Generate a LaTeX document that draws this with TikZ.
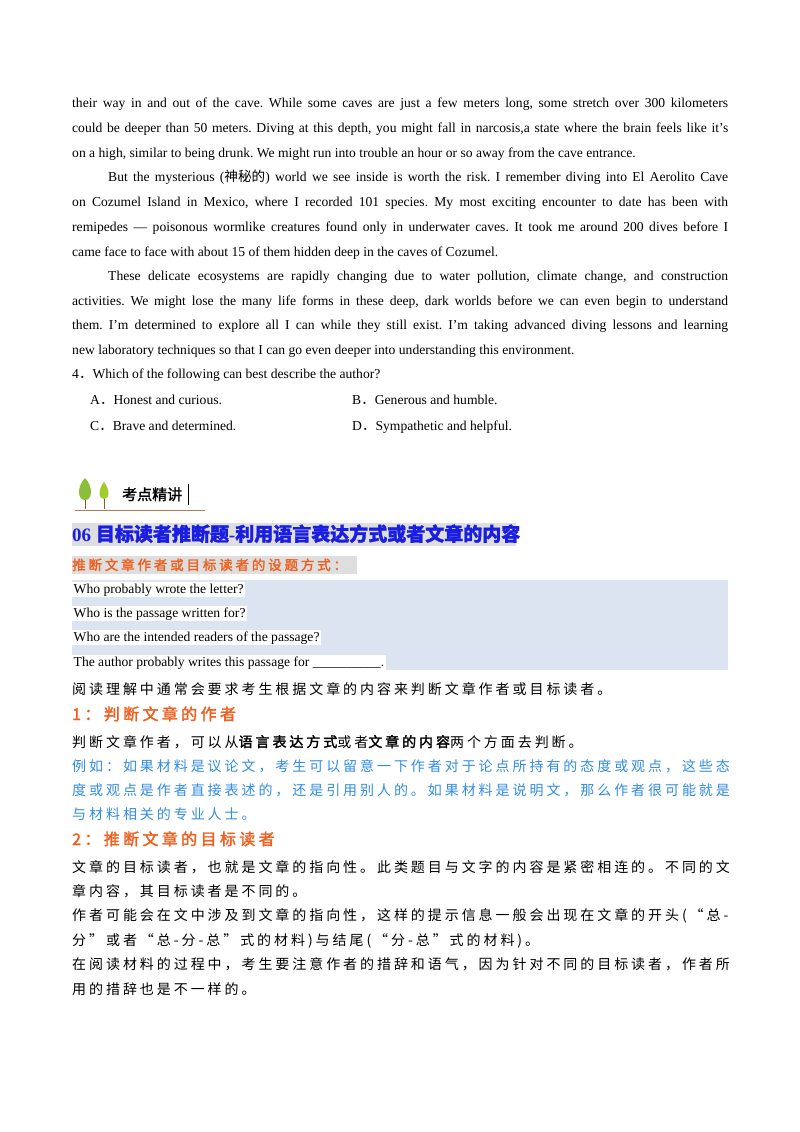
\documentclass[tikz,border=0pt]{standalone}
\usepackage{fontspec}
\setmainfont{Liberation Serif}
\newfontfamily\cjk[LetterSpace=21]{Noto Sans CJK SC}
\newfontfamily\cjkb[LetterSpace=21,FakeBold=2]{Noto Sans CJK SC}
\newfontfamily\cjkh[FakeBold=1.5]{Noto Sans CJK SC}
\newfontfamily\cjkp{Noto Sans CJK SC}
\definecolor{hblue}{RGB}{25,30,225}
\definecolor{orng}{RGB}{240,95,30}
\definecolor{tblue}{RGB}{50,140,225}
\definecolor{boxblue}{RGB}{220,228,242}
\definecolor{hgray}{RGB}{222,222,222}
\definecolor{leaf}{RGB}{140,190,60}
\newcommand\jl[2]{\makebox[#1][s]{#2}}
\frenchspacing
\begin{document}
\begin{tikzpicture}[x=1pt,y=-1pt,
  en/.style={anchor=base west,inner sep=0pt,font=\fontsize{13.6}{15}\selectfont},
  zh/.style={anchor=base west,inner sep=0pt,font=\fontsize{14}{16}\selectfont\cjk},
  zb/.style={anchor=base west,inner sep=0pt,font=\fontsize{14}{16}\selectfont\cjk,text=tblue},
  oh/.style={anchor=base west,inner sep=0pt,font=\fontsize{16}{18}\selectfont\cjkb,text=orng}]
\useasboundingbox[fill=white] (0,0) rectangle (800,1132);
\node[en] (l1) at (72,107) {\jl{656pt}{their way in and out of the cave. While some caves are just a few meters long, some stretch over 300 kilometers}};
\node[en] (l2) at (72,132) {\jl{656pt}{could be deeper than 50 meters. Diving at this depth, you might fall in narcosis,a state where the brain feels like it’s}};
\node[en] (l3) at (72,157) {on a high, similar to being drunk. We might run into trouble an hour or so away from the cave entrance.};
\node[en] (l4) at (108,181) {\jl{620pt}{But the mysterious ({\cjkp 神秘的}) world we see inside is worth the risk. I remember diving into El Aerolito Cave}};
\node[en] (l5) at (72,206) {\jl{656pt}{on Cozumel Island in Mexico, where I recorded 101 species. My most exciting encounter to date has been with}};
\node[en] (l6) at (72,231) {\jl{656pt}{remipedes — poisonous wormlike creatures found only in underwater caves. It took me around 200 dives before I}};
\node[en] (l7) at (72,256) {came face to face with about 15 of them hidden deep in the caves of Cozumel.};
\node[en] (l8) at (108,280) {\jl{620pt}{These delicate ecosystems are rapidly changing due to water pollution, climate change, and construction}};
\node[en] (l9) at (72,305) {\jl{656pt}{activities. We might lose the many life forms in these deep, dark worlds before we can even begin to understand}};
\node[en] (l10) at (72,329) {\jl{656pt}{them. I’m determined to explore all I can while they still exist. I’m taking advanced diving lessons and learning}};
\node[en] (l11) at (72,354) {new laboratory techniques so that I can go even deeper into understanding this environment.};
\node[en] (q) at (72,378) {4{\cjkp ．}Which of the following can best describe the author?};
\node[en] (oa) at (90,404) {A{\cjkp ．}Honest and curious.};
\node[en] (ob) at (352,404) {B{\cjkp ．}Generous and humble.};
\node[en] (oc) at (90,430) {C{\cjkp ．}Brave and determined.};
\node[en] (od) at (352,430) {D{\cjkp ．}Sympathetic and helpful.};
% icon
\draw[brown!60!gray,line width=0.8pt] (75,510) -- (205,510);
\draw[brown!70!black,line width=1pt] (85,495) -- (85,509) (104,495) -- (104,509);
\fill[leaf] (85,478) .. controls (77,486) and (77,500) .. (85,500) .. controls (93,500) and (93,486) .. (85,478);
\fill[leaf!80!yellow] (104,482) .. controls (98,489) and (98,499) .. (104,499) .. controls (110,499) and (110,489) .. (104,482);
\node[anchor=base west,inner sep=0pt,font=\fontsize{15}{16}\selectfont\cjkh] (kd) at (122,500) {考点精讲};
\draw[black,line width=0.8pt] (188,484) -- (188,505);
% heading
\fill[hgray] (72,523) rectangle (516,546);
\node[anchor=base west,inner sep=0pt,font=\fontsize{19}{20}\selectfont\bfseries,text=hblue] (h) at (72,541) {06 {\cjkh 目标读者推断题}-{\cjkh 利用语言表达方式或者文章的内容}};
\fill[hgray] (72,556) rectangle (357,574);
\node[anchor=base west,inner sep=0pt,font=\fontsize{13.5}{16}\selectfont\cjkb,text=orng] (sub) at (72,570) {推断文章作者或目标读者的设题方式：};
% blue box
\fill[boxblue] (72,580) rectangle (728,670);
\tikzset{wl/.style={anchor=base west,inner sep=1.5pt,fill=white,font=\fontsize{13.6}{15}\selectfont}}
\node[wl] (w1) at (72,593) {Who probably wrote the letter?};
\node[wl] (w2) at (72,617) {Who is the passage written for?};
\node[wl] (w3) at (72,641) {Who are the intended readers of the passage?};
\node[wl] (w4) at (72,666) {The author probably writes this passage for \_\_\_\_\_\_\_\_\_\_.};
% chinese body
\node[zh] (c0) at (72,694) {阅读理解中通常会要求考生根据文章的内容来判断文章作者或目标读者。};
\node[oh] (s1) at (72,720) {1：判断文章的作者};
\node[zh] (c1) at (72,747) {判断文章作者，可以从{\cjkb 语言表达方式}或者{\cjkb 文章的内容}两个方面去判断。};
\node[zb] (b1) at (72,771) {例如：如果材料是议论文，考生可以留意一下作者对于论点所持有的态度或观点，这些态};
\node[zb] (b2) at (72,795) {度或观点是作者直接表述的，还是引用别人的。如果材料是说明文，那么作者很可能就是};
\node[zb] (b3) at (72,819) {与材料相关的专业人士。};
\node[oh] (s2) at (72,845) {2：推断文章的目标读者};
\node[zh] (c2) at (72,872) {文章的目标读者，也就是文章的指向性。此类题目与文字的内容是紧密相连的。不同的文};
\node[zh] (c3) at (72,896) {章内容，其目标读者是不同的。};
\node[zh] (c4) at (72,920) {作者可能会在文中涉及到文章的指向性，这样的提示信息一般会出现在文章的开头(“总-};
\node[zh] (c5) at (72,945) {分”或者“总-分-总”式的材料)与结尾(“分-总”式的材料)。};
\node[zh] (c6) at (72,969) {在阅读材料的过程中，考生要注意作者的措辞和语气，因为针对不同的目标读者，作者所};
\node[zh] (c7) at (72,994) {用的措辞也是不一样的。};
\end{tikzpicture}
\end{document}
